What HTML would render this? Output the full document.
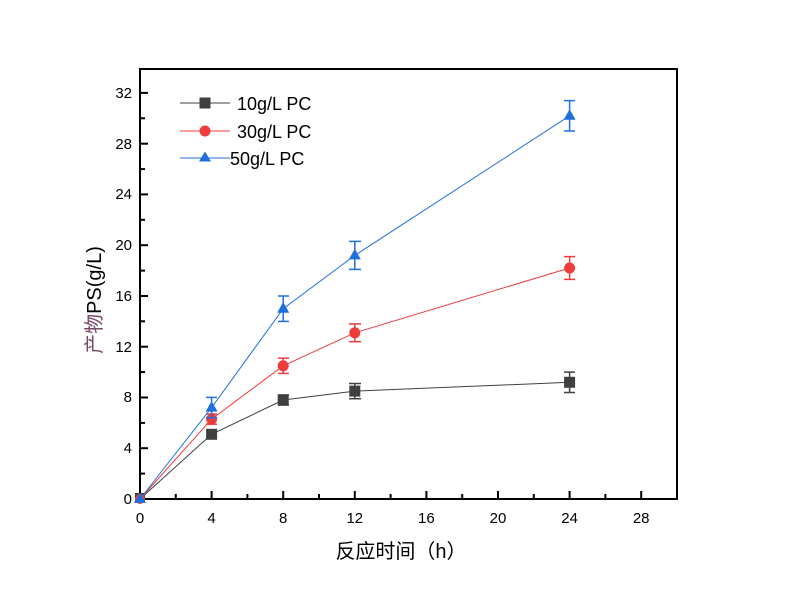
<!DOCTYPE html>
<html><head><meta charset="utf-8"><style>
html,body{margin:0;padding:0;background:#fff;}
svg{display:block;}
text{font-family:"Liberation Sans","Noto Sans CJK SC",sans-serif;}
</style></head><body>
<svg width="790" height="603" viewBox="0 0 790 603" xmlns="http://www.w3.org/2000/svg">
<rect width="790" height="603" fill="#fff"/>
<!-- frame -->
<rect x="140" y="69" width="537" height="430" fill="none" stroke="#000" stroke-width="2"/>
<!-- y ticks -->
<g stroke="#000" stroke-width="2">
<line x1="140" y1="499" x2="148" y2="499"/><line x1="140" y1="473.6" x2="145" y2="473.6"/>
<line x1="140" y1="448.2" x2="148" y2="448.2"/><line x1="140" y1="422.9" x2="145" y2="422.9"/>
<line x1="140" y1="397.5" x2="148" y2="397.5"/><line x1="140" y1="372.1" x2="145" y2="372.1"/>
<line x1="140" y1="346.7" x2="148" y2="346.7"/><line x1="140" y1="321.3" x2="145" y2="321.3"/>
<line x1="140" y1="296" x2="148" y2="296"/><line x1="140" y1="270.6" x2="145" y2="270.6"/>
<line x1="140" y1="245.2" x2="148" y2="245.2"/><line x1="140" y1="219.8" x2="145" y2="219.8"/>
<line x1="140" y1="194.4" x2="148" y2="194.4"/><line x1="140" y1="169.1" x2="145" y2="169.1"/>
<line x1="140" y1="143.7" x2="148" y2="143.7"/><line x1="140" y1="118.3" x2="145" y2="118.3"/>
<line x1="140" y1="92.9" x2="148" y2="92.9"/>
<!-- x ticks -->
<line x1="175.8" y1="499" x2="175.8" y2="494"/><line x1="211.6" y1="499" x2="211.6" y2="491"/>
<line x1="247.4" y1="499" x2="247.4" y2="494"/><line x1="283.2" y1="499" x2="283.2" y2="491"/>
<line x1="319" y1="499" x2="319" y2="494"/><line x1="354.8" y1="499" x2="354.8" y2="491"/>
<line x1="390.6" y1="499" x2="390.6" y2="494"/><line x1="426.4" y1="499" x2="426.4" y2="491"/>
<line x1="462.2" y1="499" x2="462.2" y2="494"/><line x1="498" y1="499" x2="498" y2="491"/>
<line x1="533.8" y1="499" x2="533.8" y2="494"/><line x1="569.6" y1="499" x2="569.6" y2="491"/>
<line x1="605.4" y1="499" x2="605.4" y2="494"/><line x1="641.2" y1="499" x2="641.2" y2="491"/>
</g>
<g font-size="15" fill="#000" text-anchor="end">
<text x="132" y="504">0</text><text x="132" y="453">4</text><text x="132" y="402">8</text>
<text x="132" y="352">12</text><text x="132" y="301">16</text><text x="132" y="250">20</text>
<text x="132" y="199">24</text><text x="132" y="149">28</text><text x="132" y="98">32</text>
</g>
<g font-size="15" fill="#000" text-anchor="middle">
<text x="140" y="523">0</text><text x="211.6" y="523">4</text><text x="283.2" y="523">8</text>
<text x="354.8" y="523">12</text><text x="426.4" y="523">16</text><text x="498" y="523">20</text>
<text x="569.6" y="523">24</text><text x="641.2" y="523">28</text>
</g>
<text x="401" y="558" font-size="20" text-anchor="middle" fill="#000">反应时间（h）</text>
<text transform="translate(101,300) rotate(-90)" font-size="20" text-anchor="middle" fill="#000"><tspan fill="#7a4a6a">产物</tspan>PS(g/L)</text>

<!-- 10g series -->
<g stroke="#404040" fill="#404040">
<polyline fill="none" stroke-width="1" points="140,499 211.6,434.3 283.2,400 354.8,391.1 569.6,382.3"/>
<g stroke-width="1.5">
<line x1="211.6" y1="430.5" x2="211.6" y2="438.1"/><line x1="206" y1="430.5" x2="217" y2="430.5"/><line x1="206" y1="438.1" x2="217" y2="438.1"/>
<line x1="283.2" y1="394.9" x2="283.2" y2="405.1"/><line x1="278" y1="394.9" x2="289" y2="394.9"/><line x1="278" y1="405.1" x2="289" y2="405.1"/>
<line x1="354.8" y1="383.5" x2="354.8" y2="398.7"/><line x1="349" y1="383.5" x2="361" y2="383.5"/><line x1="349" y1="398.7" x2="361" y2="398.7"/>
<line x1="569.6" y1="372.1" x2="569.6" y2="392.5"/><line x1="564" y1="372.1" x2="575" y2="372.1"/><line x1="564" y1="392.5" x2="575" y2="392.5"/>
</g>
<g stroke="none">
<rect x="135" y="493" width="10" height="10"/><rect x="206.1" y="428.8" width="11" height="11"/>
<rect x="277.7" y="394.5" width="11" height="11"/><rect x="349.3" y="385.6" width="11" height="11"/>
<rect x="564.1" y="376.8" width="11" height="11"/>
</g></g>

<!-- 30g series -->
<g stroke="#ee3b3b" fill="#ee3b3b">
<polyline fill="none" stroke-width="1" points="140,499 211.6,419.1 283.2,365.8 354.8,332.8 569.6,268"/>
<g stroke-width="1.5">
<line x1="211.6" y1="414" x2="211.6" y2="424.2"/><line x1="206" y1="414" x2="217" y2="414"/><line x1="206" y1="424.2" x2="217" y2="424.2"/>
<line x1="283.2" y1="358.2" x2="283.2" y2="373.4"/><line x1="278" y1="358.2" x2="289" y2="358.2"/><line x1="278" y1="373.4" x2="289" y2="373.4"/>
<line x1="354.8" y1="323.9" x2="354.8" y2="341.7"/><line x1="349" y1="323.9" x2="361" y2="323.9"/><line x1="349" y1="341.7" x2="361" y2="341.7"/>
<line x1="569.6" y1="256.6" x2="569.6" y2="279.4"/><line x1="564" y1="256.6" x2="575" y2="256.6"/><line x1="564" y1="279.4" x2="575" y2="279.4"/>
</g>
<g stroke="none">
<circle cx="140" cy="499" r="5"/><circle cx="211.6" cy="419.1" r="5.5"/><circle cx="283.2" cy="365.8" r="5.5"/>
<circle cx="354.8" cy="332.8" r="5.5"/><circle cx="569.6" cy="268" r="5.5"/>
</g></g>

<!-- 50g series -->
<g stroke="#1f6fdc" fill="#1f6fdc">
<polyline fill="none" stroke-width="1" points="140,499 211.6,407.6 283.2,308.7 354.8,255.4 569.6,115.8"/>
<g stroke-width="1.5">
<line x1="211.6" y1="397.4" x2="211.6" y2="417.8"/><line x1="206" y1="397.4" x2="217" y2="397.4"/><line x1="206" y1="417.8" x2="217" y2="417.8"/>
<line x1="283.2" y1="296" x2="283.2" y2="321.4"/><line x1="278" y1="296" x2="289" y2="296"/><line x1="278" y1="321.4" x2="289" y2="321.4"/>
<line x1="354.8" y1="241.4" x2="354.8" y2="269.4"/><line x1="349" y1="241.4" x2="361" y2="241.4"/><line x1="349" y1="269.4" x2="361" y2="269.4"/>
<line x1="569.6" y1="100.6" x2="569.6" y2="131"/><line x1="564" y1="100.6" x2="575" y2="100.6"/><line x1="564" y1="131" x2="575" y2="131"/>
</g>
<g stroke="none">
<polygon points="140,493 146,503 134,503"/>
<polygon points="211.6,401 217.6,411.6 205.6,411.6"/>
<polygon points="283.2,302 289.2,312.7 277.2,312.7"/>
<polygon points="354.8,248.8 360.8,259.4 348.8,259.4"/>
<polygon points="569.6,109.2 575.6,119.8 563.6,119.8"/>
</g></g>

<!-- legend -->
<line x1="180" y1="103" x2="230" y2="103" stroke="#404040" stroke-width="1"/>
<rect x="199.5" y="97.5" width="11" height="11" fill="#404040"/>
<text x="237" y="110" font-size="18" fill="#000">10g/L PC</text>
<line x1="180" y1="131" x2="230" y2="131" stroke="#ee3b3b" stroke-width="1"/>
<circle cx="205" cy="131" r="5.5" fill="#ee3b3b"/>
<text x="237" y="138" font-size="18" fill="#000">30g/L PC</text>
<line x1="180" y1="158" x2="230" y2="158" stroke="#1f6fdc" stroke-width="1"/>
<polygon points="205,151.5 211,161.5 199,161.5" fill="#1f6fdc"/>
<text x="230" y="165" font-size="18" fill="#000">50g/L PC</text>
</svg>
</body></html>
